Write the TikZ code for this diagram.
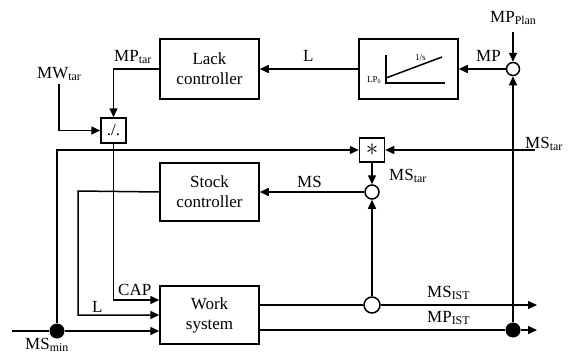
\documentclass[tikz,border=0pt]{standalone}
\usepackage{fontspec}
\setmainfont{Liberation Serif}
\usetikzlibrary{arrows.meta, positioning, calc}

\newcommand{\idx}[1]{\textsubscript{#1}}

\begin{document}
\begin{tikzpicture}[x=1pt, y=-1pt,
    font=\fontsize{17}{20}\selectfont,
    ctrlblock/.style={
      rectangle, draw, line width=1.5pt, fill=white,
      minimum width=99pt, minimum height=60pt, align=center, inner sep=0pt
    },
    opblock/.style={rectangle, draw, line width=1.5pt, fill=white, minimum width=25pt, minimum height=25pt, inner sep=0pt},
    sumpt/.style={circle, draw, line width=1.5pt, fill=white, minimum size=14pt, inner sep=0pt},
    branch/.style={circle, fill, minimum size=15pt, inner sep=0pt},
    sig/.style={anchor=base west, inner sep=0pt},
    tiny/.style={anchor=base west, inner sep=0pt, font=\fontsize{9}{10}\selectfont},
    wire/.style={line width=1.5pt},
    arr/.style={-{Triangle[length=9pt, width=8pt]}, line width=1.5pt}
  ]
    \useasboundingbox (0,0) rectangle (579,356);

    % blocks
    \node[ctrlblock] (lack) at (209.5,69) {Lack\\controller};
    \node[ctrlblock] (lp) at (408.5,69) {};
    \node[ctrlblock, minimum height=58pt] (stock) at (209.5,192) {Stock\\controller};
    \node[ctrlblock, minimum height=58pt] (work) at (209.5,315) {Work\\system};
    \node[opblock] (div) at (113.5,130.5) {./.};
    \node[opblock, minimum height=24pt] (mult) at (372,150) {\fontsize{28}{28}\selectfont$\ast$};

    % summing and branch points
    \node[sumpt, minimum size=13pt] (mpsum) at (513,69) {};
    \node[sumpt] (mssum) at (372,192) {};
    \node[sumpt, minimum size=16pt] (msbr) at (372,305) {};
    \node[branch] (mpdot) at (513,330) {};
    \node[branch] (msmindot) at (57,331) {};

    % free ends
    \coordinate (mpplan) at (513,32);
    \coordinate (mwin) at (59,84);
    \coordinate (mstarin) at (535,150);
    \coordinate (msminin) at (12,331);
    \coordinate (msistout) at (537,305);
    \coordinate (mpistout) at (537,330);

    % integrator sketch in LP block
    \draw[wire] (386,55) -- (386,83) -- (445,83);
    \draw[wire] (386,78) -- (442,57);
    \node[tiny] (lp0) at (367,82) {LP\textsubscript{0}};
    \node[tiny] (ints) at (415,60) {1/s};

    % labels
    \node[sig] (lmptar) at (114,61) {MP\idx{tar}};
    \node[sig] (lmwtar) at (37,78) {MW\idx{tar}};
    \node[sig] (ll1) at (303,61) {L};
    \node[sig] (lmp) at (476,61) {MP};
    \node[sig] (lmpplan) at (490,22) {MP\idx{Plan}};
    \node[sig] (lmstar1) at (525,148) {MS\idx{tar}};
    \node[sig] (lmstar2) at (389,180) {MS\idx{tar}};
    \node[sig] (lms) at (297,187) {MS};
    \node[sig] (lmsist) at (427,297) {MS\idx{IST}};
    \node[sig] (lmpist) at (427,322) {MP\idx{IST}};
    \node[sig] (lcap) at (118,295) {CAP};
    \node[sig] (ll2) at (92,312) {L};
    \node[sig] (lmsmin) at (25,349) {MS\idx{min}};

    % connectors
    \draw[arr] (mpplan) -- (mpsum.north);
    \draw[arr] (mpsum.west) -- (lp.east);
    \draw[arr] (lp.west) -- (lack.east);
    \draw[arr] (lack.west) -| (div.north);
    \draw[arr] (mwin) |- (div.west);
    \draw[arr] (div.south) |- ($(work.west)+(0,-15)$);
    \draw[arr] (stock.west) -- (78,191) |- (work.west);
    \draw[wire] (msminin) -- (msmindot);
    \draw[arr] (msmindot) -- ($(work.west)+(0,16)$);
    \draw[arr] (msmindot) |- (mult.west);
    \draw[arr] (mstarin) -- (mult.east);
    \draw[arr] (mult.south) -- (mssum.north);
    \draw[arr] (mssum.west) -- (stock.east);
    \draw[wire] ($(work.east)+(0,-10)$) -- (msbr.west);
    \draw[arr] (msbr.east) -- (msistout);
    \draw[arr] (msbr.north) -- (mssum.south);
    \draw[wire] ($(work.east)+(0,15)$) -- (mpdot);
    \draw[arr] (mpdot) -- (mpistout);
    \draw[arr] (mpdot) -- (mpsum.south);
  \end{tikzpicture}
\end{document}
